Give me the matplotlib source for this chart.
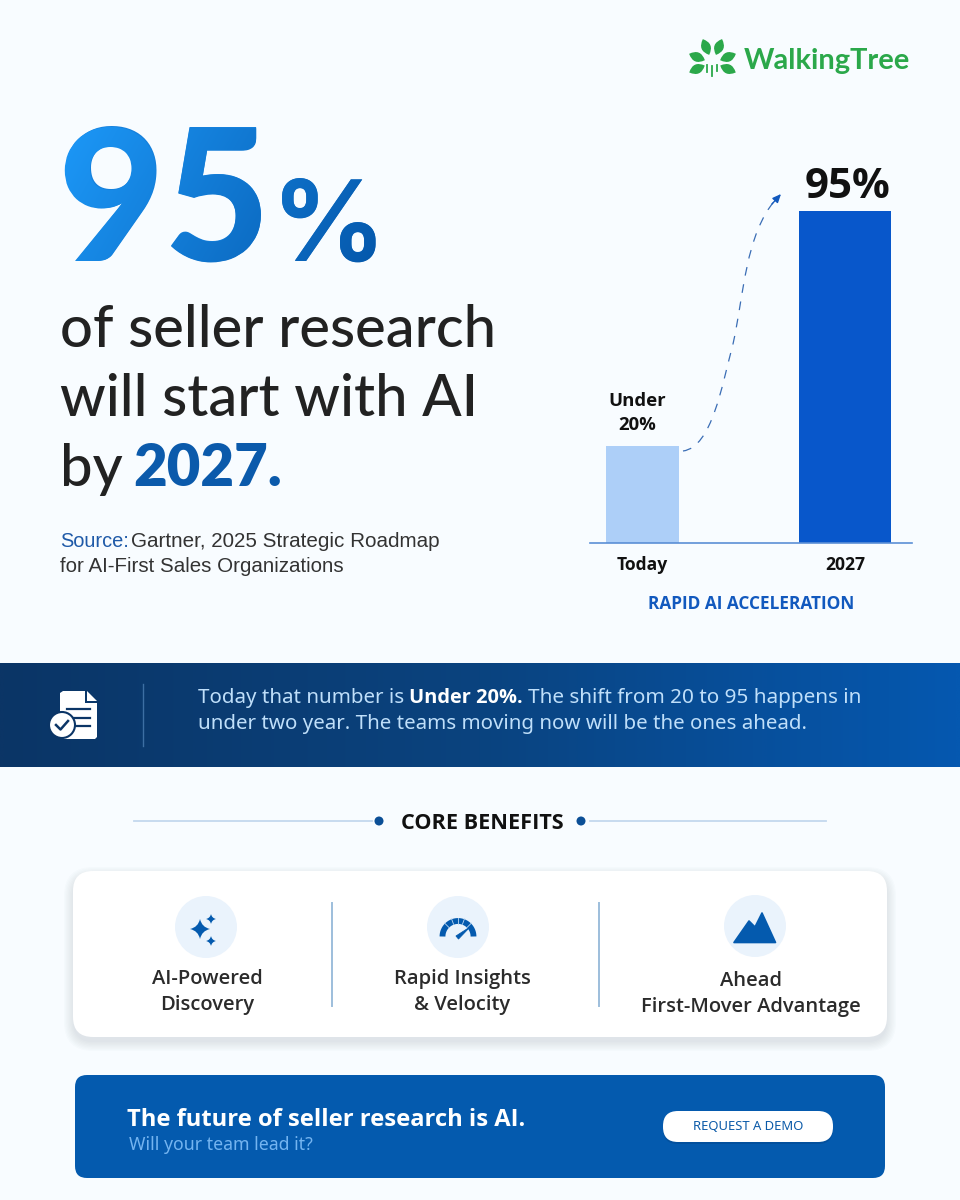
import numpy as np
from matplotlib import pyplot as plt
from matplotlib.colors import LinearSegmentedColormap
from matplotlib.font_manager import FontProperties
from matplotlib.patches import Circle, FancyBboxPatch, PathPatch, Polygon
from matplotlib.path import Path
from matplotlib.textpath import TextPath
from matplotlib.transforms import Affine2D

W, H = 960, 1200
BG = '#F8FCFF'
GREEN = '#2BA84A'
DARK = '#222222'
BLUE = '#045AAE'
UI = 'Open Sans'

categories = ['Today', '2027']
# the Today bar is drawn taller than its label says
bar_heights = [27.8, 95]
bar_labels = ['Under\n20%', '95%']
bar_colors = ['#ADCFF8', '#0857CB']
bar_widths = [0.36, 0.454]

headline = ['of seller research', 'will start with AI']
benefits = ['AI-Powered\nDiscovery', 'Rapid Insights\n& Velocity', 'Ahead\nFirst-Mover Advantage']


def px(size):
    # pixel size to points at dpi 100
    return size * 0.72


def rounded(ax, x0, y0, x1, y1, r, **kw):
    p = FancyBboxPatch((x0 + r, y0 + r), x1 - x0 - 2 * r, y1 - y0 - 2 * r,
                       boxstyle=f'round,pad={r},rounding_size={r}', **kw)
    ax.add_patch(p)
    return p


def shadow(ax, x0, y0, x1, y1, r, dy, spread, alpha):
    for s in np.linspace(spread, 0, 8):
        rounded(ax, x0 - s, y0 - s + dy, x1 + s, y1 + s + dy, r + s,
                fc='#35506E', ec='none', alpha=alpha)


def star(ax, cx, cy, r, color):
    k = 0.18 * r
    verts, codes = [(cx, cy - r)], [Path.MOVETO]
    tips = [(cx + r, cy), (cx, cy + r), (cx - r, cy), (cx, cy - r)]
    for tip in tips:
        verts += [(cx + (1 if verts[-1][0] + tip[0] > 2 * cx else -1) * k,
                   cy + (1 if verts[-1][1] + tip[1] > 2 * cy else -1) * k), tip]
        codes += [Path.CURVE3, Path.CURVE3]
    ax.add_patch(PathPatch(Path(verts, codes), fc=color, ec='none'))


def leaf(ax, cx, cy, length, width, angle):
    # pointed lens, angle in degrees in the flipped pixel axes
    shape = Path([(-length / 2, 0), (0, -width), (length / 2, 0), (0, width), (-length / 2, 0)],
                 [Path.MOVETO, Path.CURVE3, Path.CURVE3, Path.CURVE3, Path.CURVE3])
    shape = shape.transformed(Affine2D().rotate_deg(angle).translate(cx, cy))
    ax.add_patch(PathPatch(shape, fc=GREEN, ec='none'))


def gradient(ax, x0, y0, x1, y1, colors, tilt=0.0):
    cmap = LinearSegmentedColormap.from_list('g', colors)
    xx, yy = np.meshgrid(np.linspace(0, 1, 400), np.linspace(0, 1, 100))
    return ax.imshow((xx + tilt * yy) / (1 + tilt), extent=(x0, x1, y1, y0),
                     cmap=cmap, aspect='auto', interpolation='bilinear', zorder=3)


fig = plt.figure(figsize=(W / 100, H / 100), dpi=100, facecolor=BG)
ax = fig.add_axes([0, 0, 1, 1])
ax.axis('off')

# logo
for x, y, a in [(706, 47, 68), (719, 47, 111), (697, 57, 22), (728, 57, 158), (697, 69, 156), (728, 69, 24)]:
    leaf(ax, x, y, 17, 9.5, a)
for x, y0, y1 in [(707, 65, 72), (712, 66, 76), (717, 65, 71)]:
    ax.plot([x, x], [y0, y1], color=GREEN, lw=1.3)
ax.text(744, 69, 'WalkingTree', family='Lato', weight='bold', fontsize=px(29), color=GREEN)

# big number with real text below a gradient clipped to the same glyphs
font_num = FontProperties(family='Lato', weight=900)
font_pct = FontProperties(family='Inter', weight=700)
ax.text(58, 261, '95', fontproperties=font_num, fontsize=px(183), color='#1580DC')
ax.text(272, 261, '%', fontproperties=font_pct, fontsize=px(112), color='#0B66BE')
glyphs = Path.make_compound_path(
    TextPath((0, 0), '95', size=183, prop=font_num).transformed(Affine2D().scale(1, -1).translate(58, 261)),
    TextPath((0, 0), '%', size=112, prop=font_pct).transformed(Affine2D().scale(1, -1).translate(272, 261)),
    )
im = gradient(ax, 55, 120, 390, 270, ['#1D9AFA', '#0455A8'], tilt=0.25)
im.set_clip_path(glyphs, transform=ax.transData)

for line, y in zip(headline, [347, 416]):
    ax.text(60, y, line, family='Lato', weight=500, fontsize=px(58), color=DARK)
ax.text(60, 486, 'by', family='Lato', weight=500, fontsize=px(58), color=DARK)
ax.text(133, 486, '2027.', family='Lato', weight=800, fontsize=px(58), color='#0B5AAB')

ax.text(60, 547, 'Source:', family='Liberation Sans', fontsize=px(20), color='#1F5AA8')
ax.text(131, 547, 'Gartner, 2025 Strategic Roadmap', family='Liberation Sans', fontsize=px(20.7), color='#333333')
ax.text(60, 572, 'for AI-First Sales Organizations', family='Liberation Sans', fontsize=px(20.5), color='#333333')

# dashed arrow between the bars
curve = Path([(683, 451), (712, 447), (722, 385), (733, 344), (744, 295), (745, 235), (776, 199)],
             [Path.MOVETO] + [Path.CURVE4] * 6)
ax.add_patch(PathPatch(curve, fc='none', ec='#3A6DB5', lw=0.9, ls=(0, (7, 7))))
ax.annotate('', xy=(781, 194), xytext=(772, 204),
            arrowprops=dict(arrowstyle='-|>,head_length=0.5,head_width=0.22', color='#1259BE', lw=1, shrinkA=0, shrinkB=0))

# band
gradient(ax, 0, 663, W, 767, ['#0B3566', '#0A437F', '#0558B0'])
doc = Path([(63, 691), (85, 691), (85, 703), (97, 703), (97, 737), (95, 739), (63, 739), (60, 737), (60, 693), (63, 691)])
ax.add_patch(PathPatch(doc, fc='white', ec='none', zorder=4))
ax.add_patch(Polygon([(87, 691), (97, 701), (87, 701)], fc='white', ec='none', zorder=4))
for y in [709, 718, 726]:
    ax.plot([67, 90], [y, y], color='#0B3566', lw=1.6, zorder=5)
ax.add_patch(Circle((62, 725), 13, fc='white', ec='#0B3566', lw=1.5, zorder=6))
ax.plot([56, 60.5, 68], [725, 729.5, 721], color='#0B3566', lw=1.8, zorder=7)
ax.plot([143, 143], [684, 746], color='#3D6FA3', lw=1, zorder=4)
band_font = dict(family='Noto Sans', fontsize=px(20.5), zorder=5)
ax.text(198, 703, 'Today that number is', color='#BFDFFA', **band_font)
ax.text(409, 703, 'Under 20%.', color='white', family='Open Sans', weight='bold', fontsize=px(20), zorder=5)
ax.text(528, 703, 'The shift from 20 to 95 happens in', color='#BFDFFA', family='Noto Sans', fontsize=px(20.7), zorder=5)
ax.text(198, 729, 'under two year. The teams moving now will be the ones ahead.', color='#BFDFFA', **band_font)

# core benefits heading
ax.plot([134, 372], [821, 821], color='#C3D8EE', lw=1.3)
ax.plot([590, 826], [821, 821], color='#C3D8EE', lw=1.3)
for x in [379, 581]:
    ax.add_patch(Circle((x, 821), 4.5, fc='#0B4F96', ec='none'))
ax.text(482, 829, 'CORE BENEFITS', family=UI, weight='bold', fontsize=px(21.7), color='#111111', ha='center')

# benefit card
shadow(ax, 73, 871, 887, 1037, 20, 5, 9, 0.016)
rounded(ax, 73, 871, 887, 1037, 20, fc='white', ec='none')
for x in [332, 599]:
    ax.plot([x, x], [903, 1006], color='#9DBEDC', lw=1.4)
for x, y in [(206, 927), (458, 927), (755, 926)]:
    ax.add_patch(Circle((x, y), 31, fc='#EAF3FC', ec='none'))
for x, y, text in zip([207, 462, 751], [992, 992, 994], benefits):
    ax.text(x, y, text, family=UI, weight=600, fontsize=px(20.1), color='#2B2B2B',
            ha='center', va='center', linespacing=1.36)

# benefit icons
star(ax, 200, 929, 10, BLUE)
star(ax, 211, 919, 5, BLUE)
star(ax, 211, 941, 5, BLUE)
t = np.radians(np.linspace(180, 360, 80))
ax.plot(458 + 15.5 * np.cos(t), 936.5 + 15.5 * np.sin(t), color=BLUE, lw=4.2, solid_capstyle='butt')
for a in np.radians([225, 250, 270, 290, 315]):
    ax.plot(458 + np.array([13, 19]) * np.cos(a), 936.5 + np.array([13, 19]) * np.sin(a), color='#BFD9F2', lw=0.6)
ax.add_patch(Polygon([(456, 936), (470, 927), (458.5, 939)], fc=BLUE, ec=BLUE, lw=0.6, joinstyle='round'))
ax.add_patch(Polygon([(734, 942.5), (749, 921), (755, 927), (762, 913), (775.5, 942.5)], fc=BLUE, ec=BLUE, lw=1.2, joinstyle='round'))

# call to action
rounded(ax, 75, 1075, 885, 1178, 12, fc=BLUE, ec='none')
ax.text(127, 1126, 'The future of seller research is AI.', family=UI, weight='bold', fontsize=px(23.8), color='white')
ax.text(129, 1150, 'Will your team lead it?', family='Noto Sans', fontsize=px(17.7), color='#74B4F0')
rounded(ax, 663, 1113, 833, 1144, 15, fc='#033F80', ec='none', alpha=0.35)
rounded(ax, 663, 1111, 833, 1142, 15, fc='white', ec='none')
ax.text(748, 1126.5, 'REQUEST A DEMO', family='Noto Sans', fontsize=px(13), color='#0B5AA8', ha='center', va='center')

ax.set_xlim(0, W)
ax.set_ylim(H, 0)

# bar chart
ax_bar = fig.add_axes([590 / W, 1 - 543 / H, 322 / W, 332 / H])
ax_bar.patch.set_alpha(0)
bars = ax_bar.bar(range(len(categories)), bar_heights, width=bar_widths, color=bar_colors)
ax_bar.set_xlim(-0.259, 1.331)
ax_bar.set_ylim(0, 95)
ax_bar.set_yticks([])
ax_bar.set_xticks(range(len(categories)), categories, family=UI, weight='bold', fontsize=px(17.5), color='#111111')
ax_bar.tick_params(axis='x', length=0, pad=9)
ax_bar.set_xlabel('RAPID AI ACCELERATION', family=UI, weight='bold', fontsize=px(17.2), color='#1259BE', labelpad=15.5)
for side in ['top', 'left', 'right']:
    ax_bar.spines[side].set_visible(False)
ax_bar.spines['bottom'].set_color('#5B8FD6')
ax_bar.spines['bottom'].set_linewidth(1.2)
ax_bar.annotate(bar_labels[0], (0, bar_heights[0]), xytext=(-3.6, 11.5), textcoords='offset points', ha='center',
                family=UI, weight='bold', fontsize=px(18.5), color='#111111', linespacing=1.45)
ax_bar.annotate(bar_labels[1], (1, bar_heights[1]), xytext=(2, 9), textcoords='offset points', ha='center',
                family=UI, weight='bold', fontsize=px(42), color='#111111')

fig.savefig('out.png', dpi=100, facecolor=BG)
